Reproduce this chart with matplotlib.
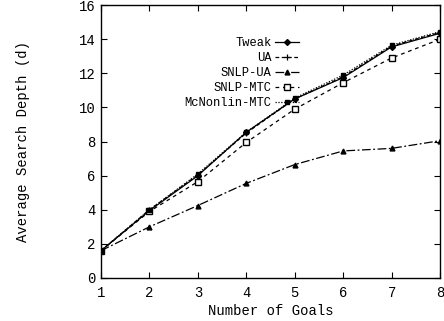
import matplotlib

matplotlib.use("Agg")
import matplotlib.pyplot as plt

goals = [1, 2, 3, 4, 5, 6, 7, 8]
tweak = [1.6, 3.95, 6.0, 8.55, 10.5, 11.75, 13.55, 14.35]
ua = [1.6, 4.0, 6.05, 8.5, 10.5, 11.8, 13.6, 14.4]
snlp_ua = [1.6, 3.0, 4.25, 5.55, 6.65, 7.45, 7.6, 8.05]
snlp_mtc = [1.6, 3.9, 5.65, 7.95, 9.9, 11.45, 12.9, 14.0]
mcnonlin_mtc = [1.6, 4.0, 6.1, 8.55, 10.55, 11.9, 13.65, 14.45]

plt.rcParams["font.family"] = ["Liberation Mono", "DejaVu Sans Mono"]

fig = plt.figure(figsize=(4.44, 3.21), dpi=100)
ax = fig.add_axes([0.2275, 0.134, 0.7635, 0.85])

lw = 0.9
ax.plot(goals, tweak, color="black", lw=lw, marker="D", ms=3, label="Tweak")
ax.plot(goals, ua, color="black", lw=lw, ls=(0, (3, 2)), marker="+", ms=5, mew=0.9, label="UA")
ax.plot(goals, snlp_ua, color="black", lw=lw, ls=(0, (7, 2, 1.5, 2)), marker="^", ms=3.5, label="SNLP-UA")
ax.plot(goals, snlp_mtc, color="black", lw=lw, ls=(0, (3, 3)), marker="s", ms=4,
        mfc="white", mew=1.0, label="SNLP-MTC")
ax.plot(goals, mcnonlin_mtc, color="black", lw=lw, ls=(0, (1, 1.3)), marker="s", ms=2.5,
        label="McNonlin-MTC")

ax.set_xlim(1, 8)
ax.set_ylim(0, 16)
ax.set_xticks(goals)
ax.set_yticks(range(0, 17, 2))
ax.tick_params(direction="in", length=4, width=0.8, top=True, right=True, labelsize=10)
ax.tick_params(axis="x", pad=6)
ax.tick_params(axis="y", pad=4)
for s in ax.spines.values():
    s.set_linewidth(1.0)

ax.set_xlabel("Number of Goals", fontsize=10, labelpad=3)
ax.set_ylabel("Average Search Depth (d)", fontsize=10, labelpad=35)

leg = ax.legend(loc="upper right", bbox_to_anchor=(0.598, 0.9), frameon=False,
                markerfirst=False, fontsize=8.7, handlelength=2.0, handletextpad=0.25,
                labelspacing=0.25, borderaxespad=0)
leg._legend_box._children[-1]._children[0].align = "right"

fig.savefig("out.png", dpi=100)
